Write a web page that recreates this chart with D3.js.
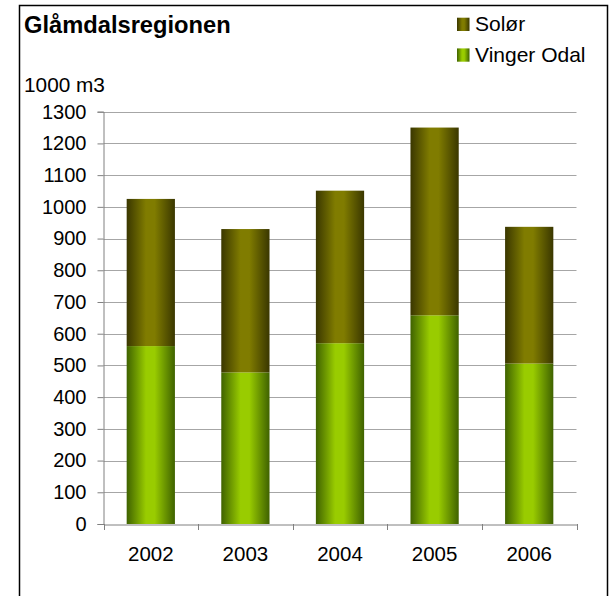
<!DOCTYPE html>
<html><head><meta charset="utf-8">
<script src="https://cdn.jsdelivr.net/npm/d3@7"></script>
<style>body{margin:0;background:#fff}svg{display:block}text{font-family:"Liberation Sans",Arial,sans-serif}</style>
</head><body>
<script>
const years = ["2002","2003","2004","2005","2006"];
const vingerOdal = [561, 478, 570, 658, 506];
const solor = [464, 452, 481, 592, 431];
const yTicks = [0,100,200,300,400,500,600,700,800,900,1000,1100,1200,1300];
const seriesNames = ["Vinger Odal","Solør"];

const W = 611, H = 596;
const FF = '"Liberation Sans",Arial,sans-serif';
const svg = d3.select("body").append("svg").attr("width", W).attr("height", H);

const defs = svg.append("defs");
function grad(id, edge, mid) {
  const g = defs.append("linearGradient").attr("id", id).attr("x1","0").attr("x2","1").attr("y1","0").attr("y2","0");
  g.append("stop").attr("offset","0%").attr("stop-color", edge);
  g.append("stop").attr("offset","40%").attr("stop-color", mid);
  g.append("stop").attr("offset","58%").attr("stop-color", mid);
  g.append("stop").attr("offset","100%").attr("stop-color", edge);
}
grad("gSolor", "#3a3700", "#807c00");
grad("gVinger", "#3f6200", "#99cc00");
const fills = {"Vinger Odal":"url(#gVinger)", "Solør":"url(#gSolor)"};

// frame
svg.append("path").attr("d", `M19.5,${H} V5.5 H607.5 V${H}`).attr("fill","none").attr("stroke","#000").attr("stroke-width",1.5);

const x0 = 103.5, x1 = 576.5, yTop = 111.7, yBot = 524;
const x = d3.scaleBand().domain(years).range([x0, x1]).paddingInner(0.49).paddingOuter(0.245);
const y = d3.scaleLinear().domain([0,1300]).range([yBot, yTop]);

// gridlines
svg.append("g").selectAll("line").data(yTicks.filter(d=>d>0)).join("line")
  .attr("x1", x0).attr("x2", x1).attr("y1", d=>Math.round(y(d))+0.5).attr("y2", d=>Math.round(y(d))+0.5)
  .attr("stroke","#a6a6a6").attr("stroke-width",1);

// bars
const stack = d3.stack().keys(seriesNames)(years.map((yr,i)=>({year:yr, "Vinger Odal":vingerOdal[i], "Solør":solor[i]})));
svg.append("g").selectAll("g").data(stack).join("g").attr("fill", d=>fills[d.key])
  .selectAll("rect").data(d=>d).join("rect")
  .attr("x", d=>x(d.data.year)).attr("width", x.bandwidth())
  .attr("y", d=>y(d[1])).attr("height", d=>y(d[0])-y(d[1]));

// y axis
const yAxis = d3.axisLeft(y).tickValues(yTicks).tickFormat(d3.format("d")).tickSize(6).tickPadding(11);
const ya = svg.append("g").attr("transform", `translate(${x0},0)`).call(yAxis);
ya.select(".domain").attr("stroke","#808080");
ya.selectAll(".tick line").attr("stroke","#808080");
ya.selectAll("text").attr("font-size", 20).attr("fill","#000").attr("font-family",FF);

// x axis
const xAxis = d3.axisBottom(x).tickSize(0).tickPadding(22);
const xa = svg.append("g").attr("transform", `translate(0,${yBot+0.5})`).call(xAxis);
xa.select(".domain").attr("stroke","#808080");
xa.selectAll("text").attr("font-size", 20.5).attr("fill","#000").attr("font-family",FF);
const bounds = years.map(yr=>x(yr)-x.step()*x.paddingInner()/2).concat([x1]);
svg.append("g").selectAll("line").data(bounds).join("line")
  .attr("x1", d=>Math.round(d)+0.5).attr("x2", d=>Math.round(d)+0.5).attr("y1", yBot).attr("y2", yBot+6)
  .attr("stroke","#808080");

// title
svg.append("text").attr("x", 24).attr("y", 33).attr("font-size", 23.7).attr("font-weight","bold").text("Glåmdalsregionen");
svg.append("text").attr("x", 24).attr("y", 92).attr("font-size", 20.8).text("1000 m3");

// legend
const legendItems = ["Solør","Vinger Odal"];
const lg = svg.append("g").selectAll("g").data(legendItems).join("g")
  .attr("transform", (d,i)=>`translate(457,${31+i*30.7})`);
lg.append("rect").attr("width", 12.5).attr("height", 13.3).attr("y", -13.3).attr("fill", d=>fills[d]);
lg.append("text").attr("x", 18).attr("y", 0).attr("font-size", 21).text(d=>d);
</script>
</body></html>
